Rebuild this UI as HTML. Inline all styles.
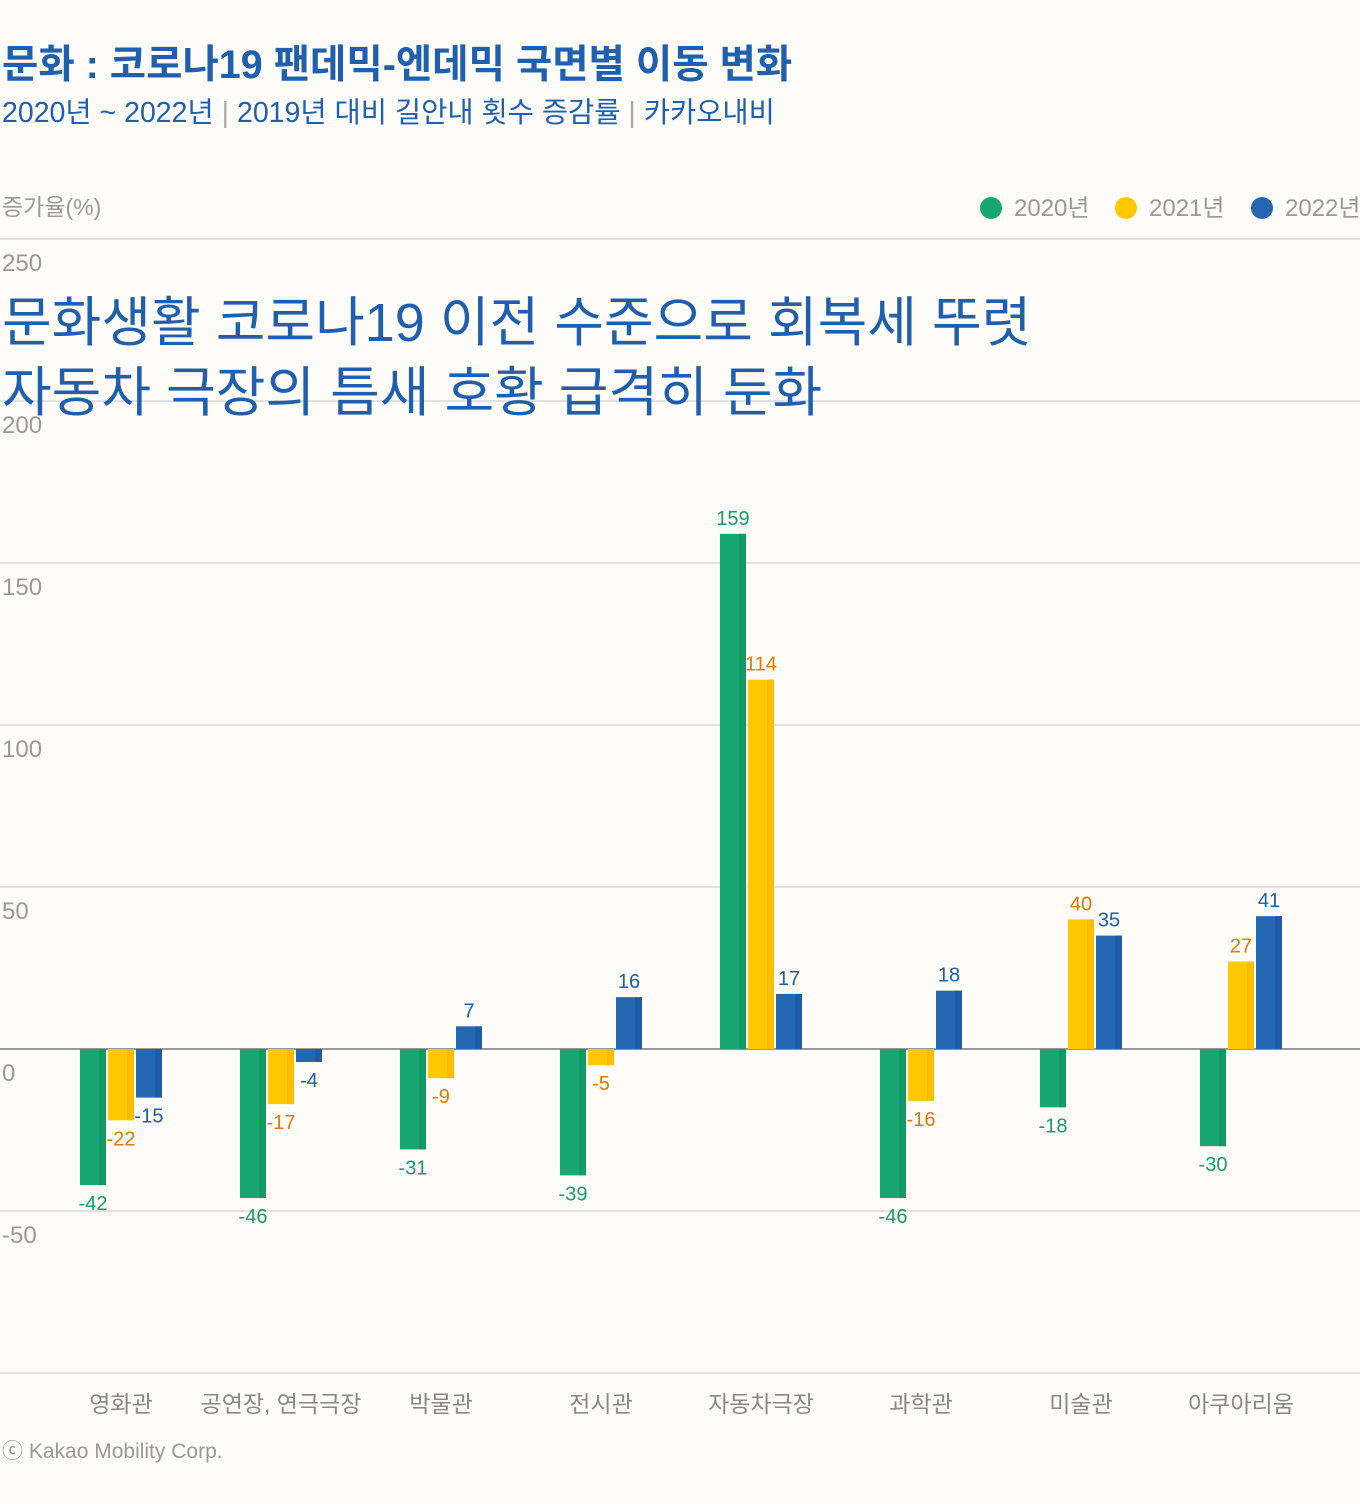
<!DOCTYPE html>
<html><head><meta charset="utf-8">
<style>
body{margin:0;background:#fdfcf8;font-family:"Liberation Sans","Noto Sans CJK KR",sans-serif;}
#wrap{position:relative;width:1360px;height:1504px;overflow:hidden;background:#fdfcf8;}
.t{position:absolute;white-space:nowrap;}
</style></head><body>
<div id="wrap">
<div class="t" style="left:2px;top:33px;font-size:39.5px;font-weight:bold;color:#1f5fae;">문화 : 코로나19 팬데믹-엔데믹 국면별 이동 변화</div>
<div class="t" style="left:2px;top:90px;font-size:28.5px;color:#1f5fae;">2020년 ~ 2022년 <span style="color:#aaa">|</span> 2019년 대비 길안내 횟수 증감률 <span style="color:#aaa">|</span> 카카오내비</div>
<div class="t" style="left:2px;top:188px;font-size:23px;color:#999;">증가율(%)</div>
<div class="t" style="left:980px;top:188px;font-size:24px;color:#999;"><span style="display:inline-block;width:22px;height:22px;border-radius:50%;background:#17a872;vertical-align:-3px;margin-right:12px"></span>2020년</div>
<div class="t" style="left:1115px;top:188px;font-size:24px;color:#999;"><span style="display:inline-block;width:22px;height:22px;border-radius:50%;background:#ffc800;vertical-align:-3px;margin-right:12px"></span>2021년</div>
<div class="t" style="left:1251px;top:188px;font-size:24px;color:#999;"><span style="display:inline-block;width:22px;height:22px;border-radius:50%;background:#2566b0;vertical-align:-3px;margin-right:12px"></span>2022년</div>
<svg id="chart" width="1360" height="1504" style="position:absolute;left:0;top:0;font-family:'Liberation Sans','Noto Sans CJK KR',sans-serif"></svg>
<div class="t" style="left:2px;top:288px;font-size:54px;line-height:70px;color:#1f5fae;">문화생활 코로나19 이전 수준으로 회복세 뚜렷<br>자동차 극장의 틈새 호황 급격히 둔화</div>
<div class="t" style="left:2px;top:1435px;font-size:21px;color:#999;">ⓒ Kakao Mobility Corp.</div>
</div>
<script>
const categories=["영화관","공연장, 연극극장","박물관","전시관","자동차극장","과학관","미술관","아쿠아리움"];
const v2020=[-42,-46,-31,-39,159,-46,-18,-30];
const v2021=[-22,-17,-9,-5,114,-16,40,27];
const v2022=[-15,-4,7,16,17,18,35,41];
const ticks=[250,200,150,100,50,0,-50,-100];
const svg=document.getElementById('chart');
const NS='http://www.w3.org/2000/svg';
const y=v=>1049-v*3.24;
const cx=i=>121+i*160;
function mk(tag,attrs){const e=document.createElementNS(NS,tag);for(const k in attrs)e.setAttribute(k,attrs[k]);svg.appendChild(e);return e;}
ticks.forEach(t=>{
  const l=mk('line',{x1:0,x2:1360,y1:y(t),y2:y(t),stroke:t===0?'#999':'#d8d8d8','stroke-width':t===0?2:1.5});
  
  
  if(t>-100){const tx=mk('text',{x:2,y:y(t)+32,'font-size':24,fill:'#999'});tx.textContent=t;
  
  }
});
const series=[[v2020,'#17a872','#10915f','#1a9a6a',-41],[v2021,'#ffc800','#f5b800','#e07b00',-13],[v2022,'#2566b0','#1c54a0','#1f5ea8',15]];
categories.forEach((c,i)=>{
  series.forEach(([vals,col,dark,lc,off])=>{
    const v=vals[i],x=cx(i)+off,top=Math.min(y(v),y(0)),h=Math.abs(y(v)-y(0));
    const r=mk('rect',{x:x,y:top,width:26,height:h,fill:col});
    
    
    mk('rect',{x:x+19,y:top,width:7,height:h,fill:dark,opacity:0.6});
    const lt=mk('text',{x:x+13,y:v>=0?y(v)-9:y(v)+25,'font-size':20,fill:lc,'text-anchor':'middle'});
    lt.textContent=v;
    
    
  });
  const ct=mk('text',{x:cx(i),y:1412,'font-size':23,fill:'#888','text-anchor':'middle'});
  ct.textContent=c;
  
  
});
</script>
</body></html>
